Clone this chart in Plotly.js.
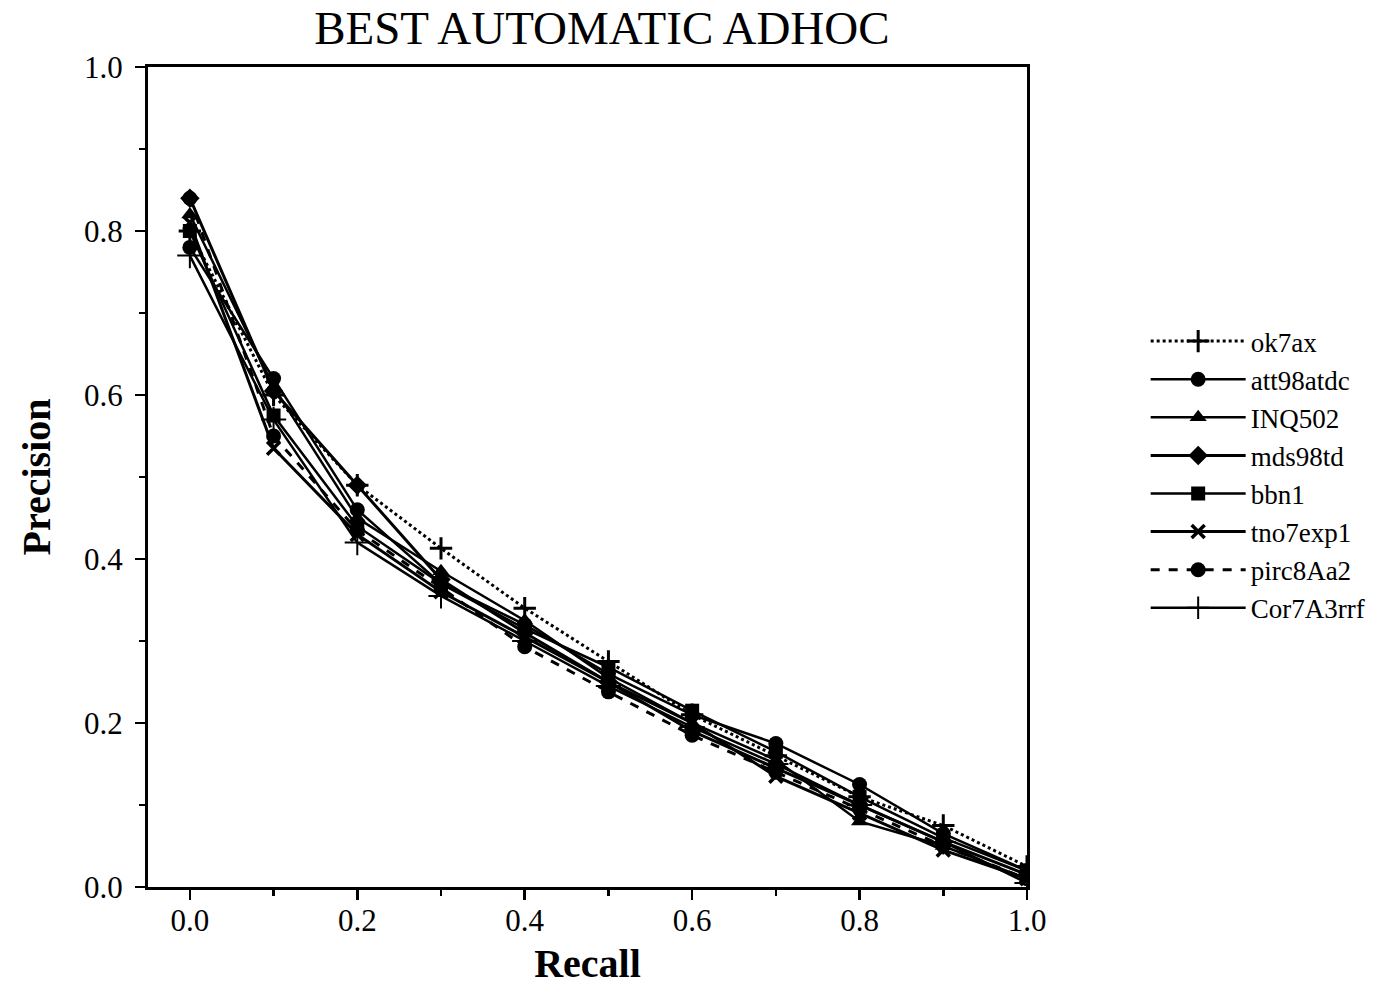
<!DOCTYPE html>
<html>
<head>
<meta charset="utf-8">
<script src="https://cdn.plot.ly/plotly-3.0.1.min.js"></script>
<style>html,body{margin:0;padding:0;background:#fff;}#chart{width:1390px;height:986px;}</style>
</head>
<body>
<div id="chart"></div>
<script>
const recall = [0.0, 0.1, 0.2, 0.3, 0.4, 0.5, 0.6, 0.7, 0.8, 0.9, 1.0];
const seriesNames = ["ok7ax", "att98atdc", "INQ502", "mds98td", "bbn1", "tno7exp1", "pirc8Aa2", "Cor7A3rrf"];
const ok7ax     = [0.80, 0.600, 0.490, 0.413, 0.340, 0.275, 0.210, 0.160, 0.110, 0.075, 0.025];
const att98atdc = [0.78, 0.620, 0.460, 0.370, 0.320, 0.260, 0.210, 0.175, 0.125, 0.065, 0.020];
const INQ502    = [0.82, 0.610, 0.450, 0.385, 0.325, 0.255, 0.200, 0.155, 0.080, 0.050, 0.010];
const mds98td   = [0.84, 0.605, 0.490, 0.375, 0.310, 0.250, 0.190, 0.145, 0.100, 0.055, 0.015];
const bbn1      = [0.80, 0.575, 0.440, 0.370, 0.315, 0.268, 0.215, 0.165, 0.110, 0.060, 0.020];
const tno7exp1  = [0.81, 0.535, 0.430, 0.360, 0.305, 0.250, 0.200, 0.135, 0.090, 0.045, 0.010];
const pirc8Aa2  = [0.84, 0.550, 0.435, 0.365, 0.293, 0.238, 0.185, 0.140, 0.095, 0.050, 0.010];
const Cor7A3rrf = [0.77, 0.570, 0.420, 0.355, 0.300, 0.245, 0.195, 0.150, 0.100, 0.055, 0.005];
const values = [ok7ax, att98atdc, INQ502, mds98td, bbn1, tno7exp1, pirc8Aa2, Cor7A3rrf];

const styles = [
  {dash:'dot',   width:3,   symbol:'cross-thin-open', size:16, mlw:3},
  {dash:'solid', width:2.5, symbol:'circle',          size:15, mlw:0},
  {dash:'solid', width:2.5, symbol:'triangle-up',     size:15, mlw:0},
  {dash:'solid', width:3,   symbol:'diamond',         size:15, mlw:0},
  {dash:'solid', width:2.5, symbol:'square',          size:14, mlw:0},
  {dash:'solid', width:3,   symbol:'x-thin-open',     size:13, mlw:3.5},
  {dash:'dash',  width:3,   symbol:'circle',          size:15, mlw:0},
  {dash:'solid', width:2.5, symbol:'cross-thin-open', size:18, mlw:2}
];

const traces = seriesNames.map((n, i) => ({
  type: 'scatter', mode: 'lines+markers', name: n,
  x: recall, y: values[i],
  line: {color: '#000', width: styles[i].width, dash: styles[i].dash},
  marker: {color: '#000', symbol: styles[i].symbol, size: styles[i].size,
           line: {color: '#000', width: styles[i].mlw}}
}));

const font = 'Liberation Serif, Times New Roman, serif';
const layout = {
  width: 1390, height: 986,
  paper_bgcolor: '#fff', plot_bgcolor: '#fff',
  margin: {l: 148, r: 363, t: 67, b: 99},
  font: {family: font, color: '#000'},
  title: {text: 'BEST AUTOMATIC ADHOC', font: {family: font, size: 47, color: '#000'},
          x: 0.433, xanchor: 'center', y: 0.972, yanchor: 'middle'},
  showlegend: true,
  legend: {x: 1.135, xanchor: 'left', y: 0.503, yanchor: 'middle',
           font: {family: font, size: 27, color: '#000'}, tracegroupgap: 0,
           itemwidth: 95, bgcolor: 'rgba(0,0,0,0)'},
  xaxis: {
    range: [-0.05, 1.0], showgrid: false, zeroline: false,
    showline: true, linecolor: '#000', linewidth: 3, mirror: true,
    ticks: 'outside', ticklen: 10, tickwidth: 2.5, tickcolor: '#000',
    tick0: 0, dtick: 0.2, tickformat: '.1f', ticklabelstandoff: -6,
    minor: {dtick: 0.1, tick0: 0, ticks: 'outside', ticklen: 6, tickwidth: 2.5, tickcolor: '#000'},
    tickfont: {family: font, size: 31, color: '#000'},
    title: {text: '<b>Recall</b>', font: {family: font, size: 40, color: '#000'}, standoff: 14}
  },
  yaxis: {
    range: [0, 1.0], showgrid: false, zeroline: false,
    showline: true, linecolor: '#000', linewidth: 3, mirror: true,
    ticks: 'outside', ticklen: 10, tickwidth: 2.5, tickcolor: '#000',
    tick0: 0, dtick: 0.2, tickformat: '.1f', ticklabelstandoff: 6,
    minor: {dtick: 0.1, tick0: 0, ticks: 'outside', ticklen: 6, tickwidth: 2.5, tickcolor: '#000'},
    tickfont: {family: font, size: 31, color: '#000'},
    title: {text: '<b>Precision</b>', font: {family: font, size: 40, color: '#000'}, standoff: 22}
  }
};

Plotly.newPlot('chart', traces, layout, {displayModeBar: false, staticPlot: true});
</script>
</body>
</html>
